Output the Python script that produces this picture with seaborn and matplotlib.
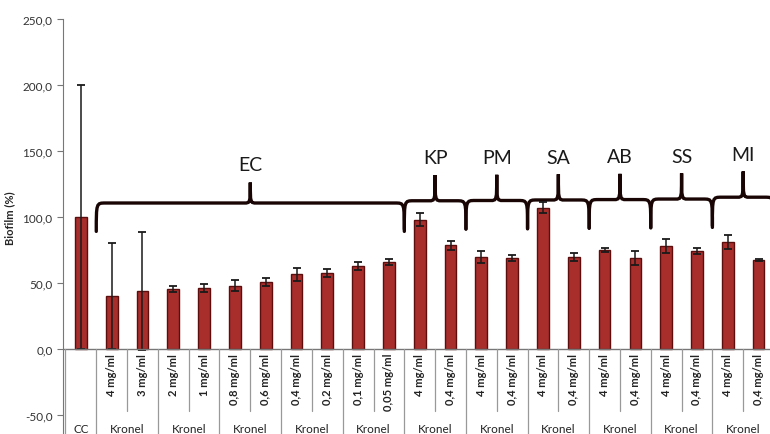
import matplotlib
matplotlib.use("Agg")
import matplotlib.pyplot as plt
import seaborn as sns
from matplotlib.path import Path
from matplotlib.patches import PathPatch

# data
conc = ["", "4 mg/ml", "3 mg/ml", "2 mg/ml", "1 mg/ml", "0,8 mg/ml", "0,6 mg/ml",
        "0,4 mg/ml", "0,2 mg/ml", "0,1 mg/ml", "0,05 mg/ml",
        "4 mg/ml", "0,4 mg/ml", "4 mg/ml", "0,4 mg/ml", "4 mg/ml", "0,4 mg/ml",
        "4 mg/ml", "0,4 mg/ml", "4 mg/ml", "0,4 mg/ml", "4 mg/ml", "0,4 mg/ml"]
biofilm = [100, 40, 44, 45.5, 46.5, 48, 51, 56.5, 57.5, 63, 66,
           98, 78.5, 70, 69, 107, 69.5, 75, 69, 78, 74.5, 81, 67.3]
err = [100, 40, 45, 2.5, 3, 4, 3, 5, 3.3, 3, 2,
       5, 3.3, 4.5, 2.5, 4, 3, 1.5, 5.5, 5, 2.3, 5.5, 1]
group_labels = ["CC"] + ["Kronel"] * 11
group_sizes = [1] + [2] * 11
species = ["EC", "KP", "PM", "SA", "AB", "SS", "MI"]
species_sizes = [10, 2, 2, 2, 2, 2, 2]
brace_level = [110.6, 112.3, 112.5, 112.9, 113.2, 113.6, 115.0]
yticks = [-50, 0, 50, 100, 150, 200, 250]

sns.set_style("white")
plt.rcParams['font.family'] = ['Lato', 'DejaVu Sans']

fig = plt.figure(figsize=(7.7, 4.35), dpi=100)
ax = fig.add_axes([63 / 770, 0, 1 - 63 / 770, 1 - 20 / 435])

ids = [f"b{i}" for i in range(len(biofilm))]
sns.barplot(x=ids, y=biofilm, order=ids, color="#a82e2b", saturation=1,
            width=0.38, edgecolor="#5c0d0d", linewidth=1, errorbar=None, ax=ax)
ax.errorbar(range(len(biofilm)), biofilm, yerr=err, fmt="none", ecolor="#1a1a1a",
            elinewidth=1.1, capsize=3, capthick=1.3)

ax.set_xlim(-0.58, 22.37)
ax.set_ylim(-64.4, 250)
ax.set_yticks(yticks)
ax.set_yticklabels([f"{v:.1f}".replace(".", ",") for v in yticks], fontsize=8.5, color="#333333")
ax.tick_params(axis="y", direction="out", length=4, color="#777777", left=True)
ax.set_xticks([])
ax.set_xlabel("")
ax.set_ylabel("Biofilm (%)", fontsize=8, fontweight="bold")
ax.yaxis.set_label_coords(-0.068, (100 + 64.4) / 314.4)
for s in ["top", "right", "bottom"]:
    ax.spines[s].set_visible(False)
ax.spines["left"].set_color("#777777")
ax.axhline(0, color="#777777", lw=1)

# two-level category labels
for i, lab in enumerate(conc):
    if lab:
        ax.text(i, -3, lab, rotation=90, ha="center", va="top", fontsize=8,
                fontweight="bold", color="#222222")
start = 0
for lab, n in zip(group_labels, group_sizes):
    ax.plot([start - 0.5] * 2, [0, -70], color="#999999", lw=0.9)
    for k in range(1, n):
        ax.plot([start + k - 0.5] * 2, [0, -47], color="#999999", lw=0.9)
    ax.text(start + (n - 1) / 2, -60, lab, ha="center", va="center", fontsize=8.5,
            color="#222222")
    start += n
ax.plot([start - 0.5] * 2, [0, -70], color="#999999", lw=0.9)


def brace(x0, x1, ylow, yh, ytip):
    xm = (x0 + x1) / 2
    d, t = 0.3, 0.2
    verts = [(x0, ylow), (x0, yh), (x0, yh), (x0 + d, yh),
             (xm - t, yh), (xm, yh), (xm, yh), (xm, ytip),
             (xm, yh), (xm, yh), (xm + t, yh),
             (x1 - d, yh), (x1, yh), (x1, yh), (x1, ylow)]
    codes = [Path.MOVETO, Path.CURVE4, Path.CURVE4, Path.CURVE4,
             Path.LINETO, Path.CURVE4, Path.CURVE4, Path.CURVE4,
             Path.CURVE4, Path.CURVE4, Path.CURVE4,
             Path.LINETO, Path.CURVE4, Path.CURVE4, Path.CURVE4]
    ax.add_patch(PathPatch(Path(verts, codes), fill=False, lw=2.4,
                           edgecolor="#1a0505", capstyle="round"))


start = 1
for sp, n, yh in zip(species, species_sizes, brace_level):
    x0, x1 = start - 0.5, start + n - 0.5
    tip = yh + (15.5 if sp == "EC" else 19.5)
    brace(x0, x1, yh - 21.5, yh, tip)
    ax.text((x0 + x1) / 2, tip + 13.5 + (0 if sp == "EC" else -0.5), sp,
            ha="center", va="center", fontsize=14, color="#1a1a1a")
    start += n

plt.savefig("out.png", dpi=100)
